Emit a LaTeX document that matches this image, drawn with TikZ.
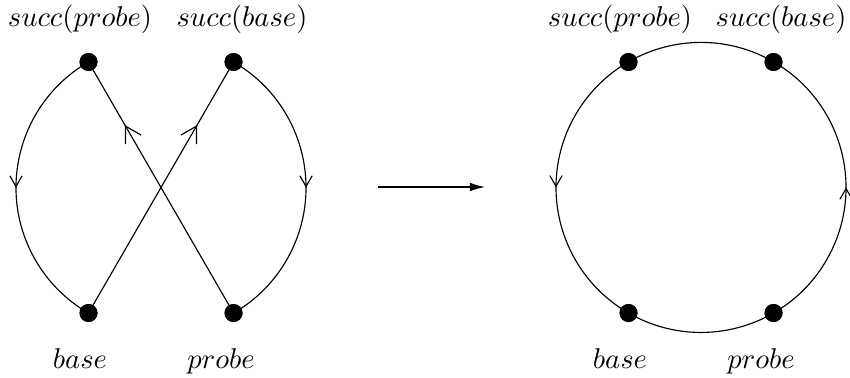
\documentclass[tikz,border=0pt]{standalone}
\usetikzlibrary{arrows.meta,decorations.markings}
\begin{document}
\begin{tikzpicture}[x=0.35pt,y=0.35pt,line width=0.4pt,
  dot/.style={circle,fill=black,inner sep=0pt,minimum size=6.3pt},
  lbl/.style={anchor=base,inner sep=0pt},
  curvearrow/.style={postaction={decorate},decoration={markings,
     mark=at position #1 with {\arrow{Straight Barb[angle=60:4.3pt,line width=0.4pt]}}}},
  linearrow/.style={postaction={decorate},decoration={markings,
     mark=at position #1 with {\arrow{Straight Barb[angle=60:6.3pt,line width=0.4pt]}}}},
  twoarrows/.style={postaction={decorate},decoration={markings,
     mark=at position 0.3333 with {\arrow{Straight Barb[angle=60:4.3pt,line width=0.4pt]}},
     mark=at position 0.8333 with {\arrow{Straight Barb[angle=60:4.3pt,line width=0.4pt]}}}}]
\useasboundingbox (0,0) rectangle (850,377);

% left figure
\node[dot] (Lsp) at (88.5,315) {};
\node[dot] (Lsb) at (233.5,315) {};
\node[dot] (Lb)  at (88.5,64) {};
\node[dot] (Lp)  at (233.5,64) {};
\draw[curvearrow=0.5] (Lsp.center) arc[start angle=120,end angle=240,radius=145];
\draw[curvearrow=0.5] (Lsb.center) arc[start angle=60,end angle=-60,radius=145];
\draw[linearrow=0.75] (Lp.center) -- (Lsp.center);
\draw[linearrow=0.75] (Lb.center) -- (Lsb.center);
\node[dot] at (Lsp) {};
\node[dot] at (Lsb) {};
\node[dot] at (Lb) {};
\node[dot] at (Lp) {};

\node[lbl] (tLsp) at (80,350) {$succ(probe)$};
\node[lbl] (tLsb) at (242,350) {$succ(base)$};
\node[lbl] (tLb)  at (80,9) {$base$};
\node[lbl] (tLp)  at (221,9) {$probe$};

% middle arrow
\coordinate (A1) at (378,190);
\coordinate (A2) at (485,190);
\draw[-{Latex[length=5.3pt,width=3pt]}] (A1) -- (A2);

% right figure
\node[dot] (Rsp) at (628.5,315) {};
\node[dot] (Rsb) at (773.5,315) {};
\node[dot] (Rb)  at (628.5,64) {};
\node[dot] (Rp)  at (773.5,64) {};
\draw[twoarrows] (Rb.center) arc[start angle=240,end angle=600,radius=145];
\node[dot] at (Rsp) {};
\node[dot] at (Rsb) {};
\node[dot] at (Rb) {};
\node[dot] at (Rp) {};

\node[lbl] (tRsp) at (620,350) {$succ(probe)$};
\node[lbl] (tRsb) at (781,350) {$succ(base)$};
\node[lbl] (tRb)  at (620,9) {$base$};
\node[lbl] (tRp)  at (761,9) {$probe$};
\end{tikzpicture}
\end{document}
